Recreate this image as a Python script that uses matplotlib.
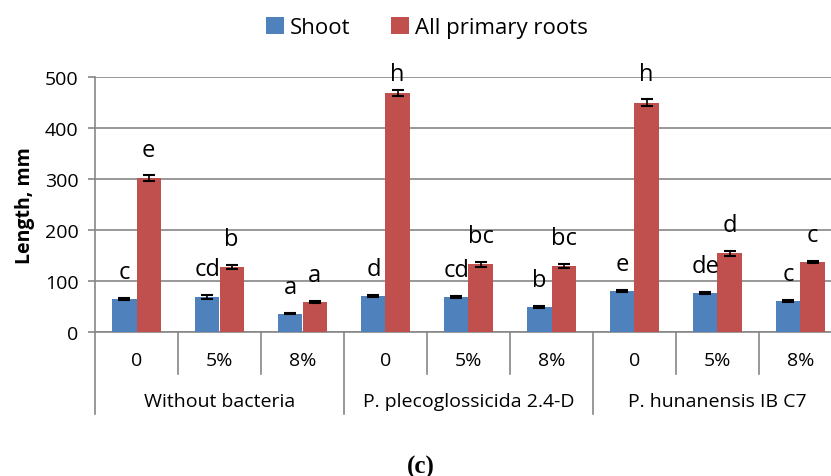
import matplotlib.pyplot as plt
import matplotlib.transforms as mtransforms
import numpy as np

plt.rcParams['font.family'] = ['Open Sans', 'DejaVu Sans']

# data
groups = ['Without bacteria', 'P. plecoglossicida 2.4-D', 'P. hunanensis IB C7']
doses = ['0', '5%', '8%']
shoot = [65, 68, 36, 70, 69, 49, 81, 76, 60]
shoot_err = [2, 4, 1.5, 2, 2, 1.5, 2, 2, 2]
roots = [302, 127, 59, 468, 133, 130, 450, 154, 137]
roots_err = [5, 4, 2, 6, 5, 4, 7, 5, 2]
shoot_letters = ['c', 'cd', 'a', 'd', 'cd', 'b', 'e', 'de', 'c']
roots_letters = ['e', 'b', 'a', 'h', 'bc', 'bc', 'h', 'd', 'c']

blue = '#4F81BD'
red = '#C0504D'
grey = '#868686'

fig = plt.figure(figsize=(8.31, 4.77), dpi=100)
ax = fig.add_axes([95 / 831, 1 - 333 / 477, 747 / 831, 255 / 477])

x = np.arange(len(shoot))
w = 0.29
ax.bar(x - w / 2, shoot, w, color=blue, label='Shoot', zorder=3,
       yerr=shoot_err, error_kw=dict(ecolor='black', capsize=4, elinewidth=1.2, capthick=1.5))
ax.bar(x + w / 2, roots, w, color=red, label='All primary roots', zorder=3,
       yerr=roots_err, error_kw=dict(ecolor='black', capsize=4, elinewidth=1.2, capthick=1.5))

# significance letters (kept just under the top of the plot area)
for i in range(len(x)):
    ax.annotate(shoot_letters[i], (x[i] - w / 2, min(shoot[i] + shoot_err[i], 455)),
                xytext=(0, 10), textcoords='offset points', ha='center', va='bottom',
                fontsize=17, zorder=4)
    ax.annotate(roots_letters[i], (x[i] + w / 2, min(roots[i] + roots_err[i], 455)),
                xytext=(0, 10), textcoords='offset points', ha='center', va='bottom',
                fontsize=17, zorder=4)

ax.set_xlim(-0.5, len(x) - 0.5)
ax.set_ylim(0, 500)
ax.set_yticks(range(0, 501, 100))
ax.tick_params(axis='y', labelsize=14, length=5, color=grey, width=1.2, pad=7)
ax.yaxis.grid(True, color=grey, linewidth=1.2, zorder=0)
ax.set_xticks([])
for s in ['top', 'right']:
    ax.spines[s].set_visible(False)
for s in ['left', 'bottom']:
    ax.spines[s].set_color(grey)
    ax.spines[s].set_linewidth(1.2)
ax.set_ylabel('Length, mm', fontsize=14, fontweight='bold', labelpad=7)

# two-level category axis
trans = mtransforms.blended_transform_factory(ax.transData, ax.transAxes)
for i in range(len(x) + 1):
    xb = i - 0.5
    y_end = -0.322 if i % 3 == 0 else -0.165
    ax.plot([xb, xb], [0, y_end], transform=trans, color=grey, lw=1.2, clip_on=False)
for i, lab in enumerate(doses * len(groups)):
    ax.text(i, -0.108, lab, transform=trans, ha='center', va='center', fontsize=14)
for g, name in enumerate(groups):
    ax.text(g * 3 + 1, -0.27, name, transform=trans, ha='center', va='center', fontsize=14)

fig.legend(loc='upper center', bbox_to_anchor=(427 / 831, 1.005), ncol=2, frameon=False,
           fontsize=16, handlelength=0.8, handleheight=0.8, handletextpad=0.3,
           columnspacing=1.8)

fig.text(421 / 831, 1 - 467 / 477, '(c)', ha='center', va='center', fontsize=18,
         fontweight='bold', family='Liberation Serif')

fig.savefig('out.png', dpi=100)
